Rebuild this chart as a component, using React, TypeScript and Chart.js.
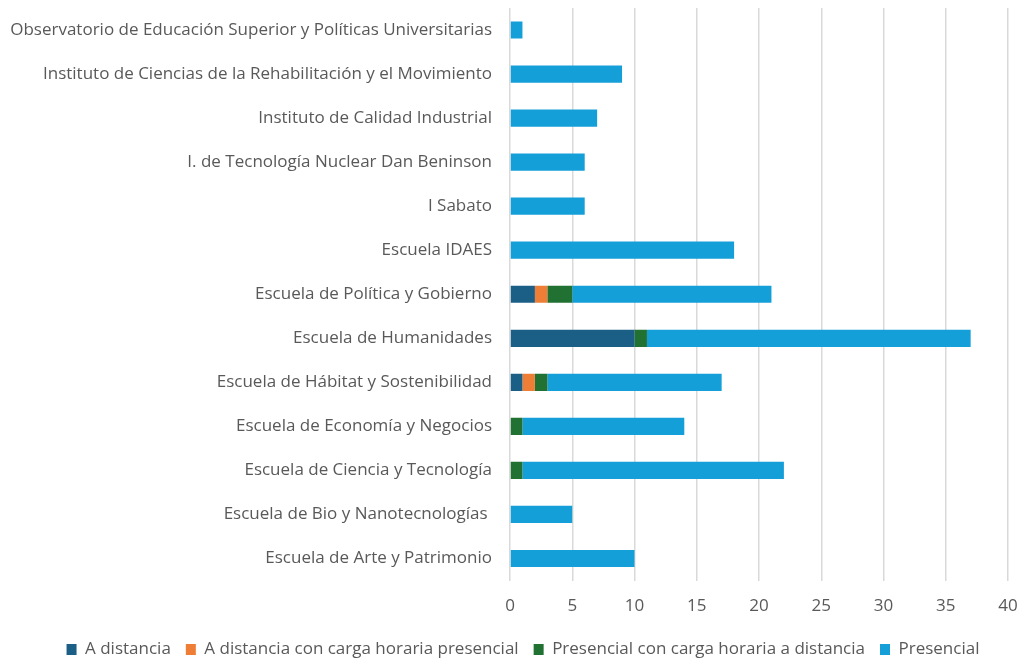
import React, { useEffect, useRef } from "react";
import { Chart, registerables } from "chart.js";

Chart.register(...registerables);

const categories = [
  "Observatorio de Educación Superior y Políticas Universitarias",
  "Instituto de Ciencias de la Rehabilitación y el Movimiento",
  "Instituto de Calidad Industrial",
  "I. de Tecnología Nuclear Dan Beninson",
  "I Sabato",
  "Escuela IDAES",
  "Escuela de Política y Gobierno",
  "Escuela de Humanidades",
  "Escuela de Hábitat y Sostenibilidad",
  "Escuela de Economía y Negocios",
  "Escuela de Ciencia y Tecnología",
  "Escuela de Bio y Nanotecnologías ",
  "Escuela de Arte y Patrimonio",
];

const aDistancia = [0, 0, 0, 0, 0, 0, 2, 10, 1, 0, 0, 0, 0];
const aDistanciaConCarga = [0, 0, 0, 0, 0, 0, 1, 0, 1, 0, 0, 0, 0];
const presencialConCarga = [0, 0, 0, 0, 0, 0, 2, 1, 1, 1, 1, 0, 0];
const presencial = [1, 9, 7, 6, 6, 18, 16, 26, 14, 13, 21, 5, 10];

const xTicks = [0, 5, 10, 15, 20, 25, 30, 35, 40];

const FONT = "'Open Sans', sans-serif";

const shiftLegend = {
  id: "shiftLegend",
  afterLayout(chart: any) {
    if (chart.legend) {
      chart.legend.left += 19;
      chart.legend.right += 19;
    }
  },
};

export default function App() {
  const ref = useRef<HTMLCanvasElement | null>(null);
  useEffect(() => {
    if (!ref.current) return;
    const chart = new Chart(ref.current, {
      type: "bar",
      data: {
        labels: categories,
        datasets: [
          { label: "A distancia", data: aDistancia, backgroundColor: "#1b5f87" },
          { label: "A distancia con carga horaria presencial", data: aDistanciaConCarga, backgroundColor: "#ee7d35" },
          { label: "Presencial con carga horaria a distancia", data: presencialConCarga, backgroundColor: "#217132" },
          { label: "Presencial", data: presencial, backgroundColor: "#149fd8" },
        ],
      },
      plugins: [shiftLegend],
      options: {
        indexAxis: "y",
        animation: false,
        responsive: false,
        maintainAspectRatio: false,
        datasets: { bar: { barPercentage: 0.39, categoryPercentage: 1 } },
        layout: { padding: { top: 8, right: 12, bottom: -9, left: 0 } },
        scales: {
          x: {
            stacked: true,
            min: 0,
            max: 40,
            afterBuildTicks: (s: any) => { s.ticks = xTicks.map((v) => ({ value: v })); },
            grid: { color: "#d9d9d9", lineWidth: 1.5, drawTicks: false },
            border: { display: false },
            ticks: { color: "#595959", font: { family: FONT, size: 17 }, padding: 15 },
            afterFit: (s: any) => { s.height = 45.5; s.paddingLeft = 0; s.paddingRight = 0; },
          },
          y: {
            stacked: true,
            grid: { display: false, drawTicks: false },
            border: { display: false },
            ticks: { color: "#595959", font: { family: FONT, size: 17 }, padding: 18, autoSkip: false },
            afterFit: (s: any) => { s.width = 510; s.paddingTop = 0; s.paddingBottom = 0; },
          },
        },
        plugins: {
          legend: {
            position: "bottom",
            labels: {
              color: "#595959",
              font: { family: FONT, size: 17 },
              boxWidth: 10,
              boxHeight: 11,
              padding: 15,
            },
          },
          tooltip: { enabled: false },
        },
      },
    });
    return () => chart.destroy();
  }, []);
  return (
    <div style={{ position: "absolute", left: 0, top: 0, width: 1020, height: 659, background: "#fff" }}>
      <canvas ref={ref} width={1020} height={659} />
    </div>
  );
}
